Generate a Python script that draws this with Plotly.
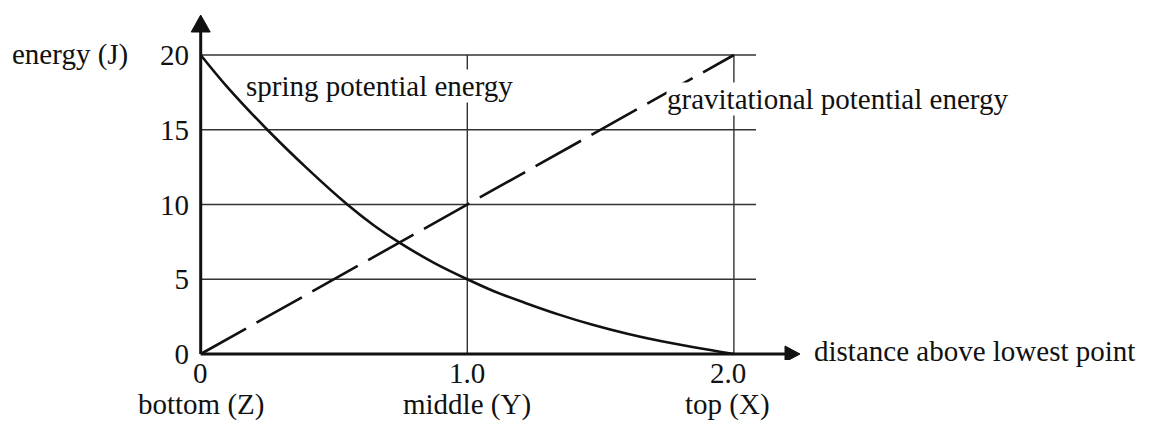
import plotly.graph_objects as go

# ---------------- data ----------------
x_tick_vals = [0, 1.0, 2.0]
x_tick_text = ["0", "1.0", "2.0"]
position_labels = ["bottom (Z)", "middle (Y)", "top (X)"]
y_tick_vals = [0, 5, 10, 15, 20]
y_tick_text = ["0", "5", "10", "15", "20"]

grid_y = [5, 10, 15, 20]
grid_x = [1.0, 2.0]

spring_x = [0, 0.10, 0.25, 0.40, 0.55, 0.65, 0.75, 0.875, 1.0, 1.10, 1.22, 1.35, 1.47, 1.60, 1.72, 1.85, 2.0]
spring_y = [20, 17.85, 15.0, 12.4, 10.0, 8.6, 7.4, 6.1, 5.0, 4.2, 3.4, 2.6, 1.95, 1.35, 0.88, 0.45, 0]

grav_x = [0, 2.0]
grav_y = [0, 20]

# ---------------- layout geometry ----------------
W, H = 1158, 421
L, R, T, B = 190, 810, 10, 360
X0PX, X1PX = 200.7, 467.3      # pixel of x=0 and x=1
Y0PX, Y20PX = 354.0, 55.0      # pixel of y=0 and y=20
sx = X1PX - X0PX               # px per x unit
sy = (Y0PX - Y20PX) / 20.0     # px per y unit

x_range = [(L - X0PX) / sx, (R - X0PX) / sx]
y_range = [(Y0PX - B) / sy, (Y0PX - T) / sy]

def dx(px):  # pixel x -> data x
    return (px - X0PX) / sx

def dy(py):  # pixel y -> data y
    return (Y0PX - py) / sy

def px_paper(px):
    return (px - L) / (R - L)

def py_paper(py):
    return (B - py) / (B - T)

FONT = "Liberation Serif, Times New Roman, serif"
FS = 29
INK = "#111111"

fig = go.Figure()

fig.add_trace(go.Scatter(
    x=spring_x, y=spring_y, mode="lines",
    line=dict(color=INK, width=2.6, shape="spline", smoothing=1.0),
    hoverinfo="skip", showlegend=False,
))
fig.add_trace(go.Scatter(
    x=grav_x, y=grav_y, mode="lines",
    line=dict(color=INK, width=2.6, dash="52px,12px"),
    hoverinfo="skip", showlegend=False,
))

shapes = []
grid_end = dx(756)
for gy in grid_y:
    shapes.append(dict(type="line", xref="x", yref="y", x0=0, x1=grid_end, y0=gy, y1=gy,
                       line=dict(color="#333333", width=1.4), layer="below"))
for gx in grid_x:
    shapes.append(dict(type="line", xref="x", yref="y", x0=gx, x1=gx, y0=0, y1=max(grid_y),
                       line=dict(color="#333333", width=1.4), layer="below"))

# axes with arrows
xa_base, xa_tip = dx(785), dx(800)
ya_base, ya_tip = dy(32), dy(15)
shapes.append(dict(type="line", xref="x", yref="y", x0=0, x1=xa_base, y0=0, y1=0,
                   line=dict(color=INK, width=3)))
shapes.append(dict(type="line", xref="x", yref="y", x0=0, x1=0, y0=0, y1=ya_base,
                   line=dict(color=INK, width=3)))
hh = 8 / sy
shapes.append(dict(type="path", xref="x", yref="y",
                   path=f"M {xa_base} {hh} L {xa_tip} 0 L {xa_base} {-hh} Z",
                   fillcolor=INK, line=dict(color=INK, width=1)))
hw = 9.5 / sx
shapes.append(dict(type="path", xref="x", yref="y",
                   path=f"M {-hw} {ya_base} L 0 {ya_tip} L {hw} {ya_base} Z",
                   fillcolor=INK, line=dict(color=INK, width=1)))

font = dict(family=FONT, size=FS, color=INK)
annotations = []
for i, (xv, num, lab) in enumerate(zip(x_tick_vals, x_tick_text, position_labels)):
    shift = -6 if i == len(x_tick_vals) - 1 else 0
    annotations.append(dict(x=xv, y=py_paper(373), xref="x", yref="paper", text=num, showarrow=False,
                            xanchor="center", yanchor="middle", xshift=shift, font=font))
    annotations.append(dict(x=xv, y=py_paper(404), xref="x", yref="paper", text=lab, showarrow=False,
                            xanchor="center", yanchor="middle", xshift=shift, font=font))
annotations.append(dict(x=px_paper(10), y=py_paper(55), xref="paper", yref="paper", text="energy (J)",
                        showarrow=False, xanchor="left", yanchor="middle", font=font))
annotations.append(dict(x=px_paper(812), y=py_paper(351), xref="paper", yref="paper",
                        text="distance above lowest point", showarrow=False,
                        xanchor="left", yanchor="middle", font=font))
annotations.append(dict(x=dx(245), y=dy(86), xref="x", yref="y", text="spring potential energy",
                        showarrow=False, xanchor="left", yanchor="middle", bgcolor="white", borderpad=0,
                        font=font))
annotations.append(dict(x=dx(666), y=dy(99), xref="x", yref="y", text="gravitational potential energy",
                        showarrow=False, xanchor="left", yanchor="middle", bgcolor="white", borderpad=0,
                        font=font))

fig.update_layout(
    width=W, height=H,
    margin=dict(l=L, r=W - R, t=T, b=H - B, pad=0),
    paper_bgcolor="white", plot_bgcolor="white",
    showlegend=False,
    shapes=shapes, annotations=annotations,
    xaxis=dict(range=x_range, tickvals=x_tick_vals, showticklabels=False, showgrid=False,
               zeroline=False, showline=False, ticks="", fixedrange=True),
    yaxis=dict(range=y_range, tickvals=y_tick_vals, ticktext=y_tick_text, showgrid=False,
               zeroline=False, showline=False, ticks="", fixedrange=True,
               tickfont=font),
)

fig.write_html("out.html", config={"displayModeBar": False},
               post_script="document.body.style.margin='0';document.body.style.padding='0';")
